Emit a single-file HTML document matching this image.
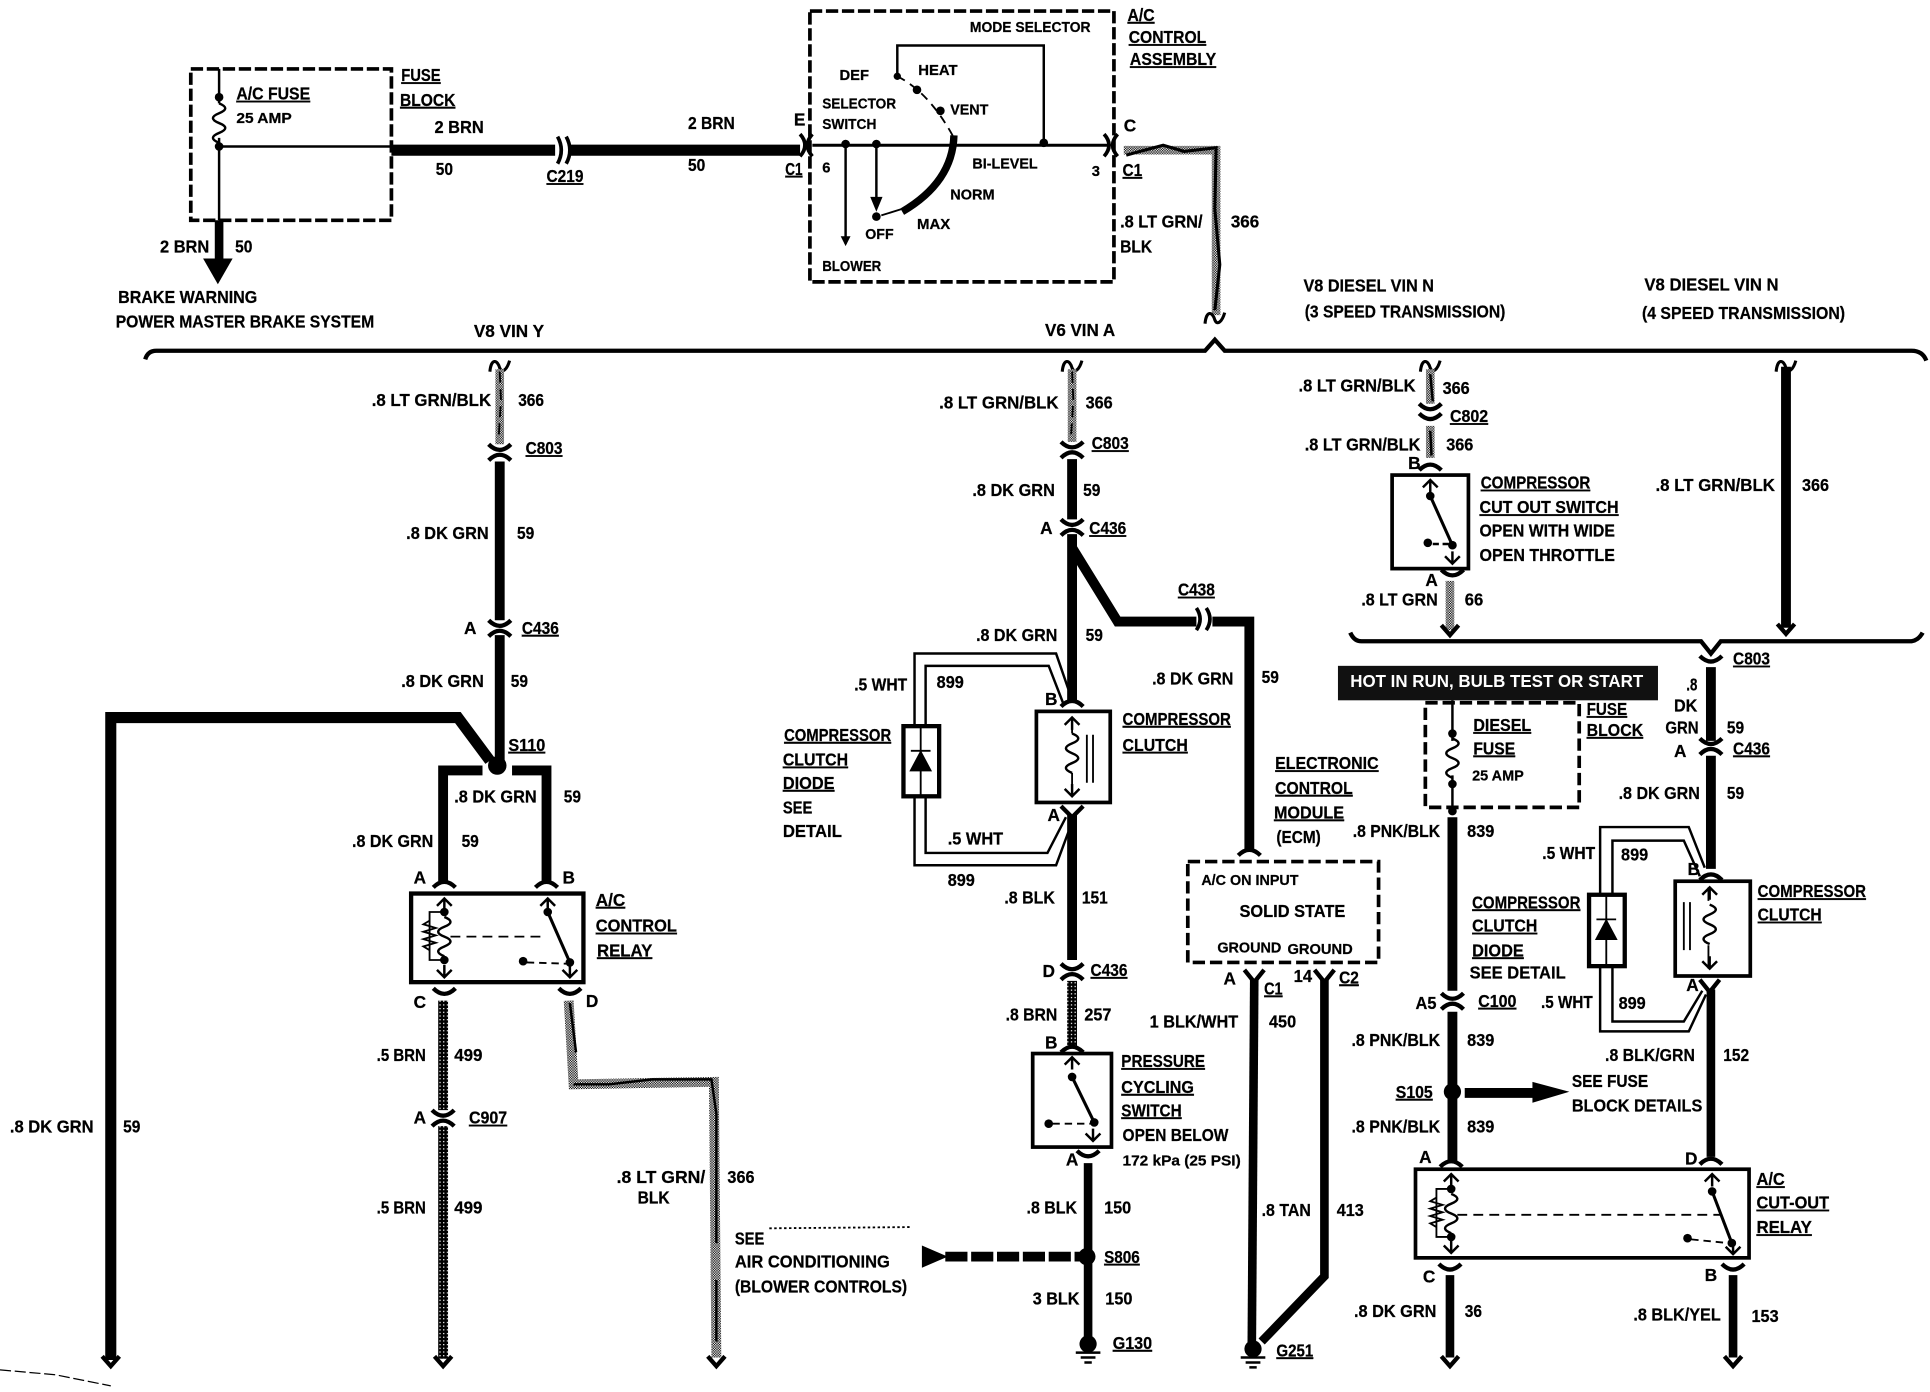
<!DOCTYPE html>
<html><head><meta charset="utf-8"><title>A/C wiring diagram</title>
<style>
html,body{margin:0;padding:0;background:#fff;width:1930px;height:1392px;overflow:hidden}
svg{display:block}
text{font:bold 14px "Liberation Sans",sans-serif;fill:#000;stroke:#000;stroke-width:.2}
.s{font-size:12px}
.u{text-decoration:underline}
.w{fill:none;stroke:#000;stroke-linejoin:miter}
</style></head><body>
<svg width="1930" height="1392" viewBox="0 0 1568 1131" preserveAspectRatio="none" xmlns="http://www.w3.org/2000/svg">
<defs>
<pattern id="g" width="2" height="2" patternUnits="userSpaceOnUse"><rect width="2" height="2" fill="#fff"/><rect width="1" height="1" fill="#000"/><rect x="1" y="1" width="1" height="1" fill="#000"/></pattern>
<pattern id="d" width="3" height="3" patternUnits="userSpaceOnUse"><rect width="3" height="3" fill="#000"/><rect width="1" height="1" fill="#fff"/></pattern>
<path id="cu" d="M-9,-3 Q0,6 9,-3" fill="none" stroke="#000" stroke-width="3.5"/>
<path id="ca" d="M-9,3 Q0,-6 9,3" fill="none" stroke="#000" stroke-width="3.5"/>
<path id="ah" d="M-7,-6 L0,2 L7,-6" fill="none" stroke="#000" stroke-width="3.5"/>
<path id="iu" d="M-6,5 L0,-1 L6,5 M0,-1V9" fill="none" stroke="#000" stroke-width="2"/>
<path id="id" d="M-6,-5 L0,1 L6,-5 M0,1V-9" fill="none" stroke="#000" stroke-width="2"/>
<path id="zz" d="M-8,5 C-7,-6 -2,-5 0,2 C2,7 6,3 8,-4" fill="none" stroke="#000" stroke-width="2.5"/>
<path id="coil" d="M0,0 q10,4 0,8 q-10,4 0,8 q10,4 0,8 q-10,4 0,8" fill="none" stroke="#000" stroke-width="2"/>
<path id="gnd" d="M-10,0H10M-6,4H6M-3,8H3" fill="none" stroke="#000" stroke-width="2"/>
</defs>

<!-- scan marks -->
<path d="M625,998L740,997" class="w" stroke="#555" stroke-width="1.5" stroke-dasharray="2 2"/>
<path d="M0,1113L45,1117L90,1126" class="w" stroke="#777" stroke-width="1" stroke-dasharray="9 3"/>

<!-- fuse block -->
<rect x="155" y="56" width="163" height="123" class="w" stroke-width="3" stroke-dasharray="10 3"/>
<path d="M178,56V84M178,112V179M178,119H318" class="w" stroke-width="2"/>
<use href="#coil" x="178" y="84"/>
<circle cx="178" cy="79" r="3.5"/><circle cx="178" cy="119" r="3.5"/>
<path d="M178,179V212" class="w" stroke-width="7"/>
<path d="M165,210H189L177,231Z"/>
<path d="M318,122H650" class="w" stroke-width="9"/>
<rect x="451" y="110" width="12" height="22" fill="#fff"/>
<path d="M453,111Q459,122 453,133M460,111Q466,122 460,133" class="w" stroke-width="3"/>

<!-- A/C control assembly -->
<rect x="658" y="9" width="247" height="220" class="w" stroke-width="3" stroke-dasharray="10 3"/>
<path d="M650,109Q658,118 650,127M660,109Q652,118 660,127" class="w" stroke-width="3"/>
<path d="M660,118H900" class="w" stroke-width="2.5"/>
<path d="M729,62V37H848V116" class="w" stroke-width="2"/>
<path d="M687,117V198M712,117V168" class="w" stroke-width="2"/>
<path d="M683,192L687,200L691,192ZM707,160L712,172L717,160Z"/>
<circle cx="687" cy="117" r="3.5"/><circle cx="712" cy="117" r="3.5"/><circle cx="848" cy="116" r="3.5"/>
<circle cx="729" cy="62" r="3"/><circle cx="745" cy="73" r="3.5"/><circle cx="764" cy="90" r="3.5"/><circle cx="712" cy="176" r="3.5"/>
<path d="M729,62Q755,75 775,112" class="w" stroke-width="1.5" stroke-dasharray="7 5"/>
<path d="M716,175L732,170" class="w" stroke-width="1.5"/>
<path d="M775,110Q774,148 733,172" class="w" stroke-width="6"/>
<path d="M897,109Q905,118 897,127M908,109Q900,118 908,127" class="w" stroke-width="3"/>
<path d="M913,122L988,122L988,256" class="w" style="stroke:url(#g)" stroke-width="7"/>
<path d="M915,126L945,118L962,123L988,120L987,170L991,215L987,252" class="w" stroke-width="2.5"/>
<use href="#zz" x="987" y="258"/>

<!-- brace -->
<path d="M118,292Q120,285 127,285H979L987,276L995,285H1553Q1562,285 1565,293" class="w" stroke-width="3.5"/>
<path d="M1097,514Q1100,521 1106,521H1382L1390,531L1398,521H1553Q1559,520 1562,514" class="w" stroke-width="3.5"/>

<!-- left column -->
<use href="#zz" x="406" y="297"/>
<path d="M406,300V361" class="w" style="stroke:url(#g)" stroke-width="7"/>
<path d="M406,302L407,325L405,358" class="w" stroke-width="1.5" stroke-dasharray="9 5"/>
<use href="#cu" x="406" y="364"/><use href="#ca" x="406" y="371"/>
<path d="M406,375V504M406,516V620" class="w" stroke-width="8"/>
<use href="#cu" x="406" y="507"/><use href="#ca" x="406" y="514"/>
<circle cx="404" cy="622" r="7.5"/>
<path d="M90,1105V583H372L398,618" class="w" stroke-width="9"/>
<use href="#ah" x="90" y="1108"/>
<path d="M360,716V626H392M416,626H444V716" class="w" stroke-width="8"/>
<use href="#ca" x="361" y="718"/><use href="#ca" x="444" y="718"/>
<rect x="334" y="726" width="140" height="72" class="w" stroke-width="3.5"/>
<use href="#iu" x="361" y="731"/><use href="#iu" x="445" y="731"/>
<circle cx="361" cy="741" r="3.5"/><circle cx="361" cy="780" r="3.5"/>
<use href="#coil" x="361" y="745"/>
<path d="M361,741H349V780H361M349,748l-5,3 10,3 -10,3 10,3 -10,3 10,3 -10,3 5,3" class="w" stroke-width="1.5"/>
<path d="M366,761H440" class="w" stroke-width="1.5" stroke-dasharray="8 5"/>
<circle cx="445" cy="741" r="3.5"/><circle cx="463" cy="782" r="3.5"/><circle cx="425" cy="781" r="3.5"/>
<path d="M445,741L463,782" class="w" stroke-width="2.5"/>
<path d="M428,782L460,783" class="w" stroke-width="1.5" stroke-dasharray="6 4"/>
<use href="#id" x="361" y="793"/><use href="#id" x="463" y="793"/>
<use href="#cu" x="361" y="806"/><use href="#cu" x="463" y="806"/>
<path d="M360,813V902M360,915V1104" class="w" style="stroke:url(#d)" stroke-width="8"/>
<use href="#cu" x="360" y="905"/><use href="#ca" x="360" y="912"/>
<use href="#ah" x="360" y="1108"/>
<path d="M462,813L466,881L580,879L582,1103" class="w" style="stroke:url(#g)" stroke-width="8"/>
<path d="M463,815L468,855M466,881L495,881L530,877L578,877L582,905L582,1010M582,1040V1090" class="w" stroke-width="2"/>
<use href="#ah" x="582" y="1108"/>

<!-- middle column -->
<use href="#zz" x="871" y="297"/>
<path d="M871,300V359" class="w" style="stroke:url(#g)" stroke-width="7"/>
<path d="M871,302L872,325L870,357" class="w" stroke-width="1.5" stroke-dasharray="9 5"/>
<use href="#cu" x="871" y="362"/><use href="#ca" x="871" y="369"/>
<path d="M871,373V422M871,434V570" class="w" stroke-width="8"/>
<use href="#cu" x="871" y="425"/><use href="#ca" x="871" y="432"/>
<path d="M871,445L908,505H972M985,505H1015V690" class="w" stroke-width="8"/>
<path d="M972,494Q978,503 972,512M980,494Q986,503 980,512" class="w" stroke-width="3"/>
<use href="#ca" x="1015" y="692"/>
<path d="M743,590V531H858L868,560M752,590V541H852L864,572M743,647V703H858L868,676M752,647V693H851L866,664" class="w" stroke-width="2"/>
<rect x="734" y="590" width="29" height="57" class="w" stroke-width="3.5"/>
<path d="M748,590V647" class="w" stroke-width="1.5"/>
<path d="M740,610H756M740,626H756L748,611Z" stroke="#000" stroke-width="1.5"/>
<use href="#ca" x="871" y="571"/>
<rect x="842" y="578" width="60" height="74" class="w" stroke-width="3"/>
<path d="M871,584V596M871,628V646" class="w" stroke-width="1.5"/>
<use href="#iu" x="871" y="584"/><use href="#id" x="871" y="646"/>
<use href="#coil" x="871" y="596"/>
<path d="M883,597V636M888,597V636" class="w" stroke-width="1.5"/>
<path d="M862,655L871,664L880,655" class="w" stroke-width="3.5"/>
<path d="M871,662V780" class="w" stroke-width="8"/>
<use href="#cu" x="871" y="786"/><use href="#ca" x="871" y="793"/>
<path d="M871,797V851" class="w" style="stroke:url(#d)" stroke-width="8"/>
<use href="#ca" x="871" y="852"/>
<rect x="839" y="856" width="64" height="76" class="w" stroke-width="3"/>
<use href="#iu" x="871" y="860"/>
<circle cx="871" cy="875" r="3.5"/><circle cx="889" cy="912" r="3.5"/><circle cx="852" cy="913" r="3.5"/>
<path d="M871,875L889,912" class="w" stroke-width="2.5"/>
<path d="M855,913H886" class="w" stroke-width="1.5" stroke-dasharray="6 4"/>
<use href="#id" x="888" y="926"/>
<use href="#cu" x="884" y="938"/>
<path d="M884,945V1090" class="w" stroke-width="7"/>
<circle cx="883" cy="1021" r="7"/>
<path d="M768,1021H880" class="w" stroke-width="8" stroke-dasharray="18 3"/>
<path d="M749,1012L770,1021L749,1030Z"/>
<circle cx="884" cy="1092" r="7"/>
<use href="#gnd" x="884" y="1099"/>

<!-- ECM -->
<rect x="965" y="700" width="155" height="82" class="w" stroke-width="3" stroke-dasharray="10 4"/>
<path d="M1011,788L1019,798L1027,788M1068,788L1076,798L1084,788" class="w" stroke-width="3.5"/>
<path d="M1019,796L1017,1093" class="w" stroke-width="7"/>
<path d="M1076,796V1037L1025,1090" class="w" stroke-width="7"/>
<circle cx="1018" cy="1096" r="7"/>
<use href="#gnd" x="1018" y="1103"/>

<!-- 3 speed -->
<use href="#zz" x="1162" y="297"/>
<path d="M1162,300V328M1162,346V372" class="w" style="stroke:url(#g)" stroke-width="7"/>
<path d="M1162,304L1164,326M1162,350L1163,370" class="w" stroke-width="2"/>
<use href="#cu" x="1162" y="331"/><use href="#cu" x="1162" y="339"/>
<use href="#ca" x="1162" y="379"/>
<rect x="1131" y="386" width="62" height="76" class="w" stroke-width="3"/>
<use href="#iu" x="1162" y="391"/>
<circle cx="1162" cy="403" r="3.5"/><circle cx="1180" cy="443" r="3.5"/><circle cx="1160" cy="441" r="3.5"/>
<path d="M1162,403L1180,443" class="w" stroke-width="2.5"/>
<path d="M1164,442H1177" class="w" stroke-width="2" stroke-dasharray="5 3"/>
<use href="#id" x="1180" y="457"/>
<use href="#cu" x="1180" y="466"/>
<path d="M1178,472V512" class="w" style="stroke:url(#g)" stroke-width="7"/>
<use href="#ah" x="1178" y="514"/>

<!-- 4 speed -->
<use href="#zz" x="1451" y="297"/>
<path d="M1451,298V510" class="w" stroke-width="8"/>
<use href="#ah" x="1451" y="513"/>
<use href="#cu" x="1390" y="536"/>
<path d="M1390,542V602M1390,614V706" class="w" stroke-width="8"/>
<use href="#cu" x="1390" y="603"/><use href="#ca" x="1390" y="610"/>
<rect x="1087" y="541" width="260" height="28" fill="#111"/>
<text x="1097" y="558" textLength="238" lengthAdjust="spacingAndGlyphs" style="fill:#fff;stroke:none">HOT IN RUN, BULB TEST OR START</text>
<rect x="1158" y="571" width="125" height="85" class="w" stroke-width="3" stroke-dasharray="10 4"/>
<path d="M1180,569V602M1180,630V656" class="w" stroke-width="2"/>
<use href="#coil" x="1180" y="600"/>
<circle cx="1180" cy="596" r="3.5"/><circle cx="1180" cy="637" r="3.5"/><circle cx="1180" cy="659" r="3.5"/>
<path d="M1180,664V805M1180,822V943" class="w" stroke-width="8"/>
<use href="#cu" x="1180" y="810"/><use href="#ca" x="1180" y="817"/>
<circle cx="1180" cy="887" r="7"/>
<path d="M1190,888H1248" class="w" stroke-width="8"/>
<path d="M1245,879L1275,887L1245,896Z"/>
<use href="#ca" x="1179" y="945"/>
<use href="#ca" x="1390" y="712"/>
<rect x="1361" y="716" width="61" height="77" class="w" stroke-width="3"/>
<path d="M1388,721V732M1388,768V787" class="w" stroke-width="1.5"/>
<use href="#iu" x="1389" y="722"/><use href="#id" x="1389" y="786"/>
<use href="#coil" x="1389" y="735"/>
<path d="M1368,733V772M1373,733V772" class="w" stroke-width="1.5"/>
<path d="M1300,727V672H1372L1385,705M1310,727V683H1368L1381,712M1300,785V838H1372L1386,808M1310,785V830H1368L1383,805" class="w" stroke-width="2"/>
<rect x="1291" y="727" width="29" height="58" class="w" stroke-width="3.5"/>
<path d="M1305,727V785" class="w" stroke-width="1.5"/>
<path d="M1297,747H1313M1297,763H1313L1305,748Z" stroke="#000" stroke-width="1.5"/>
<path d="M1381,796L1389,806L1397,796" class="w" stroke-width="3.5"/>
<path d="M1390,804V940" class="w" stroke-width="7"/>
<use href="#ca" x="1390" y="943"/>

<!-- lower relay -->
<rect x="1150" y="950" width="271" height="72" class="w" stroke-width="3"/>
<use href="#iu" x="1179" y="955"/><use href="#iu" x="1391" y="955"/>
<circle cx="1179" cy="966" r="3.5"/><circle cx="1179" cy="1005" r="3.5"/>
<use href="#coil" x="1179" y="970"/>
<path d="M1179,966H1167V1005H1179M1167,973l-5,3 10,3 -10,3 10,3 -10,3 10,3 -10,3 5,3" class="w" stroke-width="1.5"/>
<path d="M1184,987H1398" class="w" stroke-width="1.5" stroke-dasharray="8 5"/>
<circle cx="1391" cy="968" r="3.5"/><circle cx="1407" cy="1010" r="3.5"/><circle cx="1371" cy="1006" r="3.5"/>
<path d="M1391,968L1407,1010" class="w" stroke-width="2.5"/>
<path d="M1374,1007L1404,1010" class="w" stroke-width="1.5" stroke-dasharray="6 4"/>
<use href="#id" x="1179" y="1017"/><use href="#id" x="1408" y="1018"/>
<use href="#cu" x="1178" y="1030"/><use href="#cu" x="1408" y="1030"/>
<path d="M1178,1036V1103M1408,1036V1103" class="w" stroke-width="7"/>
<use href="#ah" x="1178" y="1108"/><use href="#ah" x="1408" y="1108"/>

<!-- labels -->
<text class="u" x="192" y="81" textLength="60" lengthAdjust="spacingAndGlyphs">A/C FUSE</text>
<text class="s" x="192" y="100" textLength="45" lengthAdjust="spacingAndGlyphs">25 AMP</text>
<text class="u" x="326" y="66" textLength="32" lengthAdjust="spacingAndGlyphs">FUSE</text>
<text class="u" x="325" y="86" textLength="45" lengthAdjust="spacingAndGlyphs">BLOCK</text>
<text x="353" y="108" textLength="40" lengthAdjust="spacingAndGlyphs">2 BRN</text>
<text x="354" y="142" textLength="14" lengthAdjust="spacingAndGlyphs">50</text>
<text class="u" x="444" y="148" textLength="30" lengthAdjust="spacingAndGlyphs">C219</text>
<text x="559" y="105" textLength="38" lengthAdjust="spacingAndGlyphs">2 BRN</text>
<text x="559" y="139" textLength="14" lengthAdjust="spacingAndGlyphs">50</text>
<text x="645" y="102">E</text>
<text class="u" x="638" y="142" textLength="14" lengthAdjust="spacingAndGlyphs">C1</text>
<text x="668" y="140" class="s">6</text>
<text class="s" x="788" y="26" textLength="98" lengthAdjust="spacingAndGlyphs">MODE SELECTOR</text>
<text class="u" x="916" y="17" textLength="22" lengthAdjust="spacingAndGlyphs">A/C</text>
<text class="u" x="917" y="35" textLength="63" lengthAdjust="spacingAndGlyphs">CONTROL</text>
<text class="u" x="918" y="53" textLength="70" lengthAdjust="spacingAndGlyphs">ASSEMBLY</text>
<text class="s" x="682" y="65" textLength="24" lengthAdjust="spacingAndGlyphs">DEF</text>
<text class="s" x="746" y="61" textLength="32" lengthAdjust="spacingAndGlyphs">HEAT</text>
<text class="s" x="668" y="88" textLength="60" lengthAdjust="spacingAndGlyphs">SELECTOR</text>
<text class="s" x="668" y="105" textLength="44" lengthAdjust="spacingAndGlyphs">SWITCH</text>
<text class="s" x="772" y="93" textLength="31" lengthAdjust="spacingAndGlyphs">VENT</text>
<text class="s" x="790" y="137" textLength="53" lengthAdjust="spacingAndGlyphs">BI-LEVEL</text>
<text class="s" x="772" y="162" textLength="36" lengthAdjust="spacingAndGlyphs">NORM</text>
<text class="s" x="745" y="186" textLength="27" lengthAdjust="spacingAndGlyphs">MAX</text>
<text class="s" x="703" y="194" textLength="23" lengthAdjust="spacingAndGlyphs">OFF</text>
<text class="s" x="668" y="220" textLength="48" lengthAdjust="spacingAndGlyphs">BLOWER</text>
<text x="913" y="107">C</text>
<text class="s" x="887" y="143">3</text>
<text class="u" x="912" y="143" textLength="16" lengthAdjust="spacingAndGlyphs">C1</text>
<text x="910" y="185" textLength="67" lengthAdjust="spacingAndGlyphs">.8 LT GRN/</text>
<text x="910" y="205" textLength="26" lengthAdjust="spacingAndGlyphs">BLK</text>
<text x="1000" y="185" textLength="23" lengthAdjust="spacingAndGlyphs">366</text>
<text x="130" y="205" textLength="40" lengthAdjust="spacingAndGlyphs">2 BRN</text>
<text x="191" y="205" textLength="14" lengthAdjust="spacingAndGlyphs">50</text>
<text x="96" y="246" textLength="113" lengthAdjust="spacingAndGlyphs">BRAKE WARNING</text>
<text x="94" y="266" textLength="210" lengthAdjust="spacingAndGlyphs">POWER MASTER BRAKE SYSTEM</text>
<text x="385" y="274" textLength="57" lengthAdjust="spacingAndGlyphs">V8 VIN Y</text>
<text x="849" y="273" textLength="57" lengthAdjust="spacingAndGlyphs">V6 VIN A</text>
<text x="1059" y="237" textLength="106" lengthAdjust="spacingAndGlyphs">V8 DIESEL VIN N</text>
<text x="1060" y="258" textLength="163" lengthAdjust="spacingAndGlyphs">(3 SPEED TRANSMISSION)</text>
<text x="1336" y="236" textLength="109" lengthAdjust="spacingAndGlyphs">V8 DIESEL VIN N</text>
<text x="1334" y="259" textLength="165" lengthAdjust="spacingAndGlyphs">(4 SPEED TRANSMISSION)</text>

<text x="302" y="330" textLength="97" lengthAdjust="spacingAndGlyphs">.8 LT GRN/BLK</text>
<text x="421" y="330" textLength="21" lengthAdjust="spacingAndGlyphs">366</text>
<text class="u" x="427" y="369" textLength="30" lengthAdjust="spacingAndGlyphs">C803</text>
<text x="330" y="438" textLength="67" lengthAdjust="spacingAndGlyphs">.8 DK GRN</text>
<text x="420" y="438" textLength="14" lengthAdjust="spacingAndGlyphs">59</text>
<text x="377" y="515">A</text>
<text class="u" x="424" y="515" textLength="30" lengthAdjust="spacingAndGlyphs">C436</text>
<text x="326" y="558" textLength="67" lengthAdjust="spacingAndGlyphs">.8 DK GRN</text>
<text x="415" y="558" textLength="14" lengthAdjust="spacingAndGlyphs">59</text>
<text class="u" x="413" y="610" textLength="30" lengthAdjust="spacingAndGlyphs">S110</text>
<text x="369" y="652" textLength="67" lengthAdjust="spacingAndGlyphs">.8 DK GRN</text>
<text x="458" y="652" textLength="14" lengthAdjust="spacingAndGlyphs">59</text>
<text x="286" y="688" textLength="66" lengthAdjust="spacingAndGlyphs">.8 DK GRN</text>
<text x="375" y="688" textLength="14" lengthAdjust="spacingAndGlyphs">59</text>
<text x="336" y="718">A</text>
<text x="457" y="718">B</text>
<text class="u" x="484" y="736" textLength="24" lengthAdjust="spacingAndGlyphs">A/C</text>
<text class="u" x="484" y="757" textLength="66" lengthAdjust="spacingAndGlyphs">CONTROL</text>
<text class="u" x="485" y="777" textLength="45" lengthAdjust="spacingAndGlyphs">RELAY</text>
<text x="336" y="819">C</text>
<text x="476" y="818">D</text>
<text x="306" y="862" textLength="40" lengthAdjust="spacingAndGlyphs">.5 BRN</text>
<text x="369" y="862" textLength="23" lengthAdjust="spacingAndGlyphs">499</text>
<text x="336" y="913">A</text>
<text class="u" x="381" y="913" textLength="31" lengthAdjust="spacingAndGlyphs">C907</text>
<text x="306" y="986" textLength="40" lengthAdjust="spacingAndGlyphs">.5 BRN</text>
<text x="369" y="986" textLength="23" lengthAdjust="spacingAndGlyphs">499</text>
<text x="8" y="920" textLength="68" lengthAdjust="spacingAndGlyphs">.8 DK GRN</text>
<text x="100" y="920" textLength="14" lengthAdjust="spacingAndGlyphs">59</text>
<text x="501" y="961" textLength="72" lengthAdjust="spacingAndGlyphs">.8 LT GRN/</text>
<text x="518" y="978" textLength="26" lengthAdjust="spacingAndGlyphs">BLK</text>
<text x="591" y="961" textLength="22" lengthAdjust="spacingAndGlyphs">366</text>
<text x="597" y="1011" textLength="24" lengthAdjust="spacingAndGlyphs">SEE</text>
<text x="597" y="1030" textLength="126" lengthAdjust="spacingAndGlyphs">AIR CONDITIONING</text>
<text x="597" y="1050" textLength="140" lengthAdjust="spacingAndGlyphs">(BLOWER CONTROLS)</text>

<text x="763" y="332" textLength="97" lengthAdjust="spacingAndGlyphs">.8 LT GRN/BLK</text>
<text x="882" y="332" textLength="22" lengthAdjust="spacingAndGlyphs">366</text>
<text class="u" x="887" y="365" textLength="30" lengthAdjust="spacingAndGlyphs">C803</text>
<text x="790" y="403" textLength="67" lengthAdjust="spacingAndGlyphs">.8 DK GRN</text>
<text x="880" y="403" textLength="14" lengthAdjust="spacingAndGlyphs">59</text>
<text x="845" y="434">A</text>
<text class="u" x="885" y="434" textLength="30" lengthAdjust="spacingAndGlyphs">C436</text>
<text class="u" x="957" y="484" textLength="30" lengthAdjust="spacingAndGlyphs">C438</text>
<text x="793" y="521" textLength="66" lengthAdjust="spacingAndGlyphs">.8 DK GRN</text>
<text x="882" y="521" textLength="14" lengthAdjust="spacingAndGlyphs">59</text>
<text x="936" y="556" textLength="66" lengthAdjust="spacingAndGlyphs">.8 DK GRN</text>
<text x="1025" y="555" textLength="14" lengthAdjust="spacingAndGlyphs">59</text>
<text x="694" y="561" textLength="43" lengthAdjust="spacingAndGlyphs">.5 WHT</text>
<text x="761" y="559" textLength="22" lengthAdjust="spacingAndGlyphs">899</text>
<text x="849" y="573">B</text>
<text class="u" x="912" y="589" textLength="88" lengthAdjust="spacingAndGlyphs">COMPRESSOR</text>
<text class="u" x="912" y="610" textLength="53" lengthAdjust="spacingAndGlyphs">CLUTCH</text>
<text class="u" x="637" y="602" textLength="87" lengthAdjust="spacingAndGlyphs">COMPRESSOR</text>
<text class="u" x="636" y="622" textLength="53" lengthAdjust="spacingAndGlyphs">CLUTCH</text>
<text class="u" x="636" y="641" textLength="42" lengthAdjust="spacingAndGlyphs">DIODE</text>
<text x="636" y="661" textLength="24" lengthAdjust="spacingAndGlyphs">SEE</text>
<text x="636" y="680" textLength="48" lengthAdjust="spacingAndGlyphs">DETAIL</text>
<text x="851" y="667">A</text>
<text x="770" y="686" textLength="45" lengthAdjust="spacingAndGlyphs">.5 WHT</text>
<text x="770" y="720" textLength="22" lengthAdjust="spacingAndGlyphs">899</text>
<text x="816" y="734" textLength="41" lengthAdjust="spacingAndGlyphs">.8 BLK</text>
<text x="879" y="734" textLength="21" lengthAdjust="spacingAndGlyphs">151</text>
<text x="847" y="794">D</text>
<text class="u" x="886" y="793" textLength="30" lengthAdjust="spacingAndGlyphs">C436</text>
<text x="817" y="829" textLength="42" lengthAdjust="spacingAndGlyphs">.8 BRN</text>
<text x="881" y="829" textLength="22" lengthAdjust="spacingAndGlyphs">257</text>
<text x="849" y="852">B</text>
<text class="u" x="911" y="867" textLength="68" lengthAdjust="spacingAndGlyphs">PRESSURE</text>
<text class="u" x="911" y="888" textLength="59" lengthAdjust="spacingAndGlyphs">CYCLING</text>
<text class="u" x="911" y="907" textLength="49" lengthAdjust="spacingAndGlyphs">SWITCH</text>
<text x="912" y="927" textLength="86" lengthAdjust="spacingAndGlyphs">OPEN BELOW</text>
<text class="s" x="912" y="947" textLength="96" lengthAdjust="spacingAndGlyphs">172 kPa (25 PSI)</text>
<text x="866" y="947">A</text>
<text x="834" y="986" textLength="41" lengthAdjust="spacingAndGlyphs">.8 BLK</text>
<text x="897" y="986" textLength="22" lengthAdjust="spacingAndGlyphs">150</text>
<text class="u" x="897" y="1026" textLength="29" lengthAdjust="spacingAndGlyphs">S806</text>
<text x="839" y="1060" textLength="38" lengthAdjust="spacingAndGlyphs">3 BLK</text>
<text x="898" y="1060" textLength="22" lengthAdjust="spacingAndGlyphs">150</text>
<text class="u" x="904" y="1096" textLength="32" lengthAdjust="spacingAndGlyphs">G130</text>

<text class="u" x="1036" y="625" textLength="84" lengthAdjust="spacingAndGlyphs">ELECTRONIC</text>
<text class="u" x="1036" y="645" textLength="63" lengthAdjust="spacingAndGlyphs">CONTROL</text>
<text class="u" x="1035" y="665" textLength="57" lengthAdjust="spacingAndGlyphs">MODULE</text>
<text x="1037" y="685" textLength="36" lengthAdjust="spacingAndGlyphs">(ECM)</text>
<text class="s" x="976" y="719" textLength="79" lengthAdjust="spacingAndGlyphs">A/C ON INPUT</text>
<text x="1007" y="745" textLength="86" lengthAdjust="spacingAndGlyphs">SOLID STATE</text>
<text class="s" x="989" y="774" textLength="52" lengthAdjust="spacingAndGlyphs">GROUND</text>
<text class="s" x="1046" y="775" textLength="53" lengthAdjust="spacingAndGlyphs">GROUND</text>
<text x="994" y="800">A</text>
<text class="u" x="1027" y="808" textLength="15" lengthAdjust="spacingAndGlyphs">C1</text>
<text x="1051" y="798" textLength="15" lengthAdjust="spacingAndGlyphs">14</text>
<text class="u" x="1088" y="799" textLength="16" lengthAdjust="spacingAndGlyphs">C2</text>
<text x="934" y="835" textLength="72" lengthAdjust="spacingAndGlyphs">1 BLK/WHT</text>
<text x="1031" y="835" textLength="22" lengthAdjust="spacingAndGlyphs">450</text>
<text x="1025" y="988" textLength="40" lengthAdjust="spacingAndGlyphs">.8 TAN</text>
<text x="1086" y="988" textLength="22" lengthAdjust="spacingAndGlyphs">413</text>
<text class="u" x="1037" y="1102" textLength="30" lengthAdjust="spacingAndGlyphs">G251</text>

<text x="1055" y="318" textLength="95" lengthAdjust="spacingAndGlyphs">.8 LT GRN/BLK</text>
<text x="1172" y="320" textLength="22" lengthAdjust="spacingAndGlyphs">366</text>
<text class="u" x="1178" y="343" textLength="31" lengthAdjust="spacingAndGlyphs">C802</text>
<text x="1060" y="366" textLength="94" lengthAdjust="spacingAndGlyphs">.8 LT GRN/BLK</text>
<text x="1175" y="366" textLength="22" lengthAdjust="spacingAndGlyphs">366</text>
<text x="1144" y="381">B</text>
<text class="u" x="1203" y="397" textLength="89" lengthAdjust="spacingAndGlyphs">COMPRESSOR</text>
<text class="u" x="1202" y="417" textLength="113" lengthAdjust="spacingAndGlyphs">CUT OUT SWITCH</text>
<text x="1202" y="436" textLength="110" lengthAdjust="spacingAndGlyphs">OPEN WITH WIDE</text>
<text x="1202" y="456" textLength="110" lengthAdjust="spacingAndGlyphs">OPEN THROTTLE</text>
<text x="1158" y="476">A</text>
<text x="1106" y="492" textLength="62" lengthAdjust="spacingAndGlyphs">.8 LT GRN</text>
<text x="1190" y="492" textLength="15" lengthAdjust="spacingAndGlyphs">66</text>

<text x="1345" y="399" textLength="97" lengthAdjust="spacingAndGlyphs">.8 LT GRN/BLK</text>
<text x="1464" y="399" textLength="22" lengthAdjust="spacingAndGlyphs">366</text>
<text class="u" x="1408" y="540" textLength="30" lengthAdjust="spacingAndGlyphs">C803</text>
<text x="1370" y="561" textLength="9" lengthAdjust="spacingAndGlyphs">.8</text>
<text x="1360" y="578" textLength="19" lengthAdjust="spacingAndGlyphs">DK</text>
<text x="1353" y="596" textLength="27" lengthAdjust="spacingAndGlyphs">GRN</text>
<text x="1403" y="596" textLength="14" lengthAdjust="spacingAndGlyphs">59</text>
<text x="1360" y="615">A</text>
<text class="u" x="1408" y="613" textLength="30" lengthAdjust="spacingAndGlyphs">C436</text>
<text class="u" x="1289" y="581" textLength="33" lengthAdjust="spacingAndGlyphs">FUSE</text>
<text class="u" x="1289" y="598" textLength="46" lengthAdjust="spacingAndGlyphs">BLOCK</text>
<text class="u" x="1197" y="594" textLength="47" lengthAdjust="spacingAndGlyphs">DIESEL</text>
<text class="u" x="1197" y="613" textLength="34" lengthAdjust="spacingAndGlyphs">FUSE</text>
<text class="s" x="1196" y="634" textLength="42" lengthAdjust="spacingAndGlyphs">25 AMP</text>
<text x="1315" y="649" textLength="66" lengthAdjust="spacingAndGlyphs">.8 DK GRN</text>
<text x="1403" y="649" textLength="14" lengthAdjust="spacingAndGlyphs">59</text>
<text x="1253" y="698" textLength="43" lengthAdjust="spacingAndGlyphs">.5 WHT</text>
<text x="1317" y="699" textLength="22" lengthAdjust="spacingAndGlyphs">899</text>
<text x="1371" y="711">B</text>
<text class="u" x="1428" y="729" textLength="88" lengthAdjust="spacingAndGlyphs">COMPRESSOR</text>
<text class="u" x="1428" y="748" textLength="52" lengthAdjust="spacingAndGlyphs">CLUTCH</text>
<text x="1099" y="680" textLength="71" lengthAdjust="spacingAndGlyphs">.8 PNK/BLK</text>
<text x="1192" y="680" textLength="22" lengthAdjust="spacingAndGlyphs">839</text>
<text class="u" x="1196" y="738" textLength="88" lengthAdjust="spacingAndGlyphs">COMPRESSOR</text>
<text class="u" x="1196" y="757" textLength="53" lengthAdjust="spacingAndGlyphs">CLUTCH</text>
<text class="u" x="1196" y="777" textLength="42" lengthAdjust="spacingAndGlyphs">DIODE</text>
<text x="1194" y="795" textLength="78" lengthAdjust="spacingAndGlyphs">SEE DETAIL</text>
<text x="1150" y="820" textLength="17" lengthAdjust="spacingAndGlyphs">A5</text>
<text class="u" x="1201" y="818" textLength="31" lengthAdjust="spacingAndGlyphs">C100</text>
<text x="1252" y="819" textLength="42" lengthAdjust="spacingAndGlyphs">.5 WHT</text>
<text x="1315" y="820" textLength="22" lengthAdjust="spacingAndGlyphs">899</text>
<text x="1370" y="805">A</text>
<text x="1098" y="850" textLength="72" lengthAdjust="spacingAndGlyphs">.8 PNK/BLK</text>
<text x="1192" y="850" textLength="22" lengthAdjust="spacingAndGlyphs">839</text>
<text x="1304" y="862" textLength="73" lengthAdjust="spacingAndGlyphs">.8 BLK/GRN</text>
<text x="1400" y="862" textLength="21" lengthAdjust="spacingAndGlyphs">152</text>
<text class="u" x="1134" y="892" textLength="30" lengthAdjust="spacingAndGlyphs">S105</text>
<text x="1277" y="883" textLength="62" lengthAdjust="spacingAndGlyphs">SEE FUSE</text>
<text x="1277" y="903" textLength="106" lengthAdjust="spacingAndGlyphs">BLOCK DETAILS</text>
<text x="1098" y="920" textLength="72" lengthAdjust="spacingAndGlyphs">.8 PNK/BLK</text>
<text x="1192" y="920" textLength="22" lengthAdjust="spacingAndGlyphs">839</text>
<text x="1153" y="945">A</text>
<text x="1369" y="946">D</text>
<text class="u" x="1427" y="963" textLength="23" lengthAdjust="spacingAndGlyphs">A/C</text>
<text class="u" x="1427" y="982" textLength="59" lengthAdjust="spacingAndGlyphs">CUT-OUT</text>
<text class="u" x="1427" y="1002" textLength="45" lengthAdjust="spacingAndGlyphs">RELAY</text>
<text x="1156" y="1042">C</text>
<text x="1385" y="1041">B</text>
<text x="1100" y="1070" textLength="67" lengthAdjust="spacingAndGlyphs">.8 DK GRN</text>
<text x="1190" y="1070" textLength="14" lengthAdjust="spacingAndGlyphs">36</text>
<text x="1327" y="1073" textLength="71" lengthAdjust="spacingAndGlyphs">.8 BLK/YEL</text>
<text x="1423" y="1074" textLength="22" lengthAdjust="spacingAndGlyphs">153</text>
</svg>
</body></html>
